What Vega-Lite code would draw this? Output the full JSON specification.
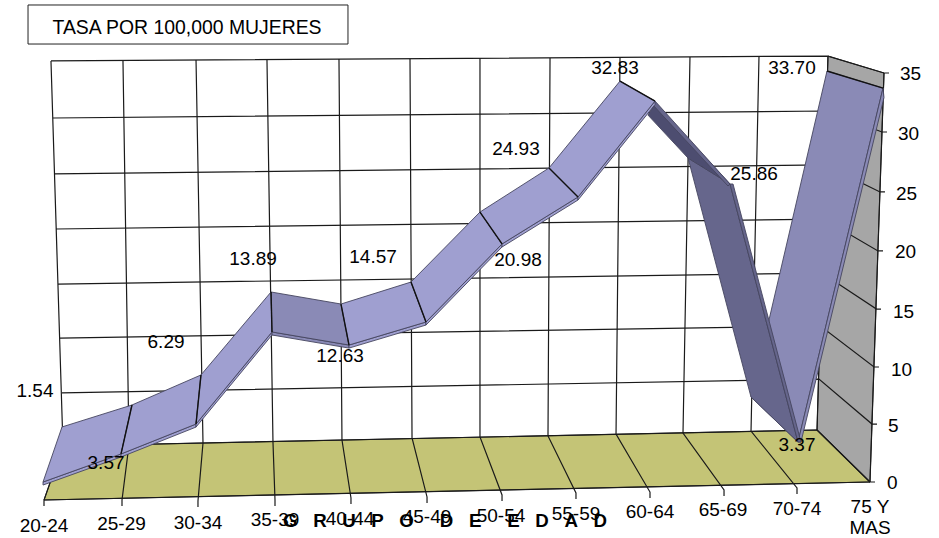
{"$schema":"https://vega.github.io/schema/vega-lite/v6.json","width":939,"height":538,"padding":0,"autosize":"none","background":"white","config":{"view":{"stroke":null}},
"datasets":{
"walls":[
{"poly":"side","tone":"wall","i":0,"x":10.453,"y":36.45},{"poly":"side","tone":"wall","i":1,"x":11.2,"y":35},{"poly":"side","tone":"wall","i":2,"x":11.013,"y":0},{"poly":"side","tone":"wall","i":3,"x":10.307,"y":4.45},{"poly":"side","tone":"wall","i":4,"x":10.453,"y":36.45},
{"poly":"floor","tone":"floor","i":0,"x":0.253,"y":3.08},{"poly":"floor","tone":"floor","i":1,"x":10.307,"y":4.45},{"poly":"floor","tone":"floor","i":2,"x":11.013,"y":0},{"poly":"floor","tone":"floor","i":3,"x":0,"y":-1.54},{"poly":"floor","tone":"floor","i":4,"x":0.253,"y":3.08},
{"poly":"box","tone":"box","i":0,"x":-0.213,"y":40.82},{"poly":"box","tone":"box","i":1,"x":4.053,"y":40.82},{"poly":"box","tone":"box","i":2,"x":4.053,"y":37.48},{"poly":"box","tone":"box","i":3,"x":-0.213,"y":37.48},{"poly":"box","tone":"box","i":4,"x":-0.213,"y":40.82}
],
"grid":[
{"l":"v0","i":0,"x":0.093,"y":36.03},{"l":"v0","i":1,"x":0.253,"y":3.08},{"l":"v0","i":2,"x":0,"y":-1.54},{"l":"v0","i":3,"x":0,"y":-2.05},
{"l":"v1","i":0,"x":1.053,"y":36.03},{"l":"v1","i":1,"x":1.133,"y":3.17},{"l":"v1","i":2,"x":1.04,"y":-1.54},{"l":"v1","i":3,"x":1.04,"y":-2.05},
{"l":"v2","i":0,"x":2.027,"y":36.11},{"l":"v2","i":1,"x":2.12,"y":3.34},{"l":"v2","i":2,"x":2.053,"y":-1.63},{"l":"v2","i":3,"x":2.053,"y":-2.14},
{"l":"v3","i":0,"x":2.973,"y":36.11},{"l":"v3","i":1,"x":3.053,"y":3.42},{"l":"v3","i":2,"x":3.08,"y":-1.54},{"l":"v3","i":3,"x":3.08,"y":-2.05},
{"l":"v4","i":0,"x":3.933,"y":36.2},{"l":"v4","i":1,"x":3.973,"y":3.59},{"l":"v4","i":2,"x":4.093,"y":-1.37},{"l":"v4","i":3,"x":4.093,"y":-1.88},
{"l":"v5","i":0,"x":4.88,"y":36.2},{"l":"v5","i":1,"x":4.907,"y":3.77},{"l":"v5","i":2,"x":5.107,"y":-1.28},{"l":"v5","i":3,"x":5.107,"y":-1.8},
{"l":"v6","i":0,"x":5.813,"y":36.28},{"l":"v6","i":1,"x":5.813,"y":3.85},{"l":"v6","i":2,"x":6.107,"y":-1.11},{"l":"v6","i":3,"x":6.107,"y":-1.63},
{"l":"v7","i":0,"x":6.747,"y":36.28},{"l":"v7","i":1,"x":6.72,"y":3.94},{"l":"v7","i":2,"x":7.093,"y":-0.94},{"l":"v7","i":3,"x":7.093,"y":-1.45},
{"l":"v8","i":0,"x":7.68,"y":36.28},{"l":"v8","i":1,"x":7.627,"y":4.11},{"l":"v8","i":2,"x":8.08,"y":-0.86},{"l":"v8","i":3,"x":8.08,"y":-1.37},
{"l":"v9","i":0,"x":8.613,"y":36.37},{"l":"v9","i":1,"x":8.52,"y":4.19},{"l":"v9","i":2,"x":9.067,"y":-0.68},{"l":"v9","i":3,"x":9.067,"y":-1.2},
{"l":"v10","i":0,"x":9.533,"y":36.37},{"l":"v10","i":1,"x":9.427,"y":4.36},{"l":"v10","i":2,"x":10.04,"y":-0.51},{"l":"v10","i":3,"x":10.04,"y":-1.03},
{"l":"v11","i":0,"x":10.453,"y":36.45},{"l":"v11","i":1,"x":10.307,"y":4.45},{"l":"v11","i":2,"x":11.013,"y":0},
{"l":"h35","i":0,"x":0.093,"y":36.03},{"l":"h35","i":1,"x":10.453,"y":36.45},{"l":"h35","i":2,"x":11.2,"y":35},{"l":"h35","i":3,"x":11.267,"y":35},
{"l":"h30","i":0,"x":0.12,"y":31.15},{"l":"h30","i":1,"x":10.433,"y":31.75},{"l":"h30","i":2,"x":11.173,"y":29.95},{"l":"h30","i":3,"x":11.24,"y":29.95},
{"l":"h25","i":0,"x":0.133,"y":26.36},{"l":"h25","i":1,"x":10.413,"y":27.13},{"l":"h25","i":2,"x":11.147,"y":24.82},{"l":"h25","i":3,"x":11.213,"y":24.82},
{"l":"h20","i":0,"x":0.16,"y":21.65},{"l":"h20","i":1,"x":10.393,"y":22.5},{"l":"h20","i":2,"x":11.12,"y":19.77},{"l":"h20","i":3,"x":11.187,"y":19.77},
{"l":"h15","i":0,"x":0.187,"y":16.94},{"l":"h15","i":1,"x":10.373,"y":17.88},{"l":"h15","i":2,"x":11.1,"y":14.8},{"l":"h15","i":3,"x":11.16,"y":14.8},
{"l":"h10","i":0,"x":0.213,"y":12.32},{"l":"h10","i":1,"x":10.353,"y":13.35},{"l":"h10","i":2,"x":11.067,"y":9.84},{"l":"h10","i":3,"x":11.133,"y":9.84},
{"l":"h5","i":0,"x":0.24,"y":7.62},{"l":"h5","i":1,"x":10.333,"y":8.81},{"l":"h5","i":2,"x":11.04,"y":4.96},{"l":"h5","i":3,"x":11.107,"y":4.96},
{"l":"h0","i":0,"x":0.253,"y":3.08},{"l":"h0","i":1,"x":10.307,"y":4.45},{"l":"h0","i":2,"x":11.013,"y":0},{"l":"h0","i":3,"x":11.08,"y":0},
{"l":"front","i":0,"x":0,"y":-1.54},{"l":"front","i":1,"x":11.013,"y":0},
{"l":"right","i":0,"x":11.013,"y":0},{"l":"right","i":1,"x":11.2,"y":35}
],
"ribbon":[
{"poly":"F10","tone":"mid","i":0,"x":9.427,"y":7.27},{"poly":"F10","tone":"mid","i":1,"x":10.44,"y":35.17},{"poly":"F10","tone":"mid","i":2,"x":11.187,"y":33.71},{"poly":"F10","tone":"mid","i":3,"x":10.053,"y":3.42},{"poly":"F10","tone":"mid","i":4,"x":9.427,"y":7.27},
{"poly":"S10","tone":"mid","i":0,"x":10.053,"y":3.42},{"poly":"S10","tone":"mid","i":1,"x":11.187,"y":33.71},{"poly":"S10","tone":"mid","i":2,"x":11.2,"y":32.9},{"poly":"S10","tone":"mid","i":3,"x":10.093,"y":3.42},{"poly":"S10","tone":"mid","i":4,"x":10.053,"y":3.42},
{"poly":"F9","tone":"shade","i":0,"x":8.587,"y":27.72},{"poly":"F9","tone":"shade","i":1,"x":9.147,"y":25.5},{"poly":"F9","tone":"shade","i":2,"x":10.053,"y":3.42},{"poly":"F9","tone":"shade","i":3,"x":9.427,"y":7.27},{"poly":"F9","tone":"shade","i":4,"x":8.587,"y":27.72},
{"poly":"S9","tone":"shade","i":0,"x":9.147,"y":25.5},{"poly":"S9","tone":"shade","i":1,"x":10.053,"y":3.42},{"poly":"S9","tone":"shade","i":2,"x":10.093,"y":3.42},{"poly":"S9","tone":"shade","i":3,"x":9.187,"y":25.5},{"poly":"S9","tone":"shade","i":4,"x":9.147,"y":25.5},
{"poly":"F8","tone":"deep","i":0,"x":8.147,"y":32.43},{"poly":"F8","tone":"deep","i":1,"x":8.053,"y":31.4},{"poly":"F8","tone":"deep","i":2,"x":8.587,"y":27.72},{"poly":"F8","tone":"deep","i":3,"x":9.147,"y":25.5},{"poly":"F8","tone":"deep","i":4,"x":8.147,"y":32.43},
{"poly":"S8","tone":"shade","i":0,"x":8.147,"y":32.6},{"poly":"S8","tone":"shade","i":1,"x":9.147,"y":25.5},{"poly":"S8","tone":"shade","i":2,"x":9.12,"y":25.33},{"poly":"S8","tone":"shade","i":3,"x":8.107,"y":32.35},{"poly":"S8","tone":"shade","i":4,"x":8.147,"y":32.6},
{"poly":"S0","tone":"lit","i":0,"x":-0.013,"y":0},{"poly":"S0","tone":"lit","i":1,"x":1.027,"y":2.4},{"poly":"S0","tone":"lit","i":2,"x":1.027,"y":2.14},{"poly":"S0","tone":"lit","i":3,"x":-0.013,"y":-0.26},{"poly":"S0","tone":"lit","i":4,"x":-0.013,"y":0},
{"poly":"S1","tone":"lit","i":0,"x":1.027,"y":2.4},{"poly":"S1","tone":"lit","i":1,"x":2.027,"y":4.96},{"poly":"S1","tone":"lit","i":2,"x":2.027,"y":4.7},{"poly":"S1","tone":"lit","i":3,"x":1.027,"y":2.14},{"poly":"S1","tone":"lit","i":4,"x":1.027,"y":2.4},
{"poly":"S2","tone":"lit","i":0,"x":2.027,"y":4.96},{"poly":"S2","tone":"lit","i":1,"x":3.04,"y":12.84},{"poly":"S2","tone":"lit","i":2,"x":3.04,"y":12.58},{"poly":"S2","tone":"lit","i":3,"x":2.027,"y":4.7},{"poly":"S2","tone":"lit","i":4,"x":2.027,"y":4.96},
{"poly":"S3","tone":"mid","i":0,"x":3.04,"y":12.84},{"poly":"S3","tone":"mid","i":1,"x":4.067,"y":11.72},{"poly":"S3","tone":"mid","i":2,"x":4.067,"y":11.46},{"poly":"S3","tone":"mid","i":3,"x":3.04,"y":12.58},{"poly":"S3","tone":"mid","i":4,"x":3.04,"y":12.84},
{"poly":"S4","tone":"lit","i":0,"x":4.067,"y":11.72},{"poly":"S4","tone":"lit","i":1,"x":5.093,"y":13.69},{"poly":"S4","tone":"lit","i":2,"x":5.093,"y":13.43},{"poly":"S4","tone":"lit","i":3,"x":4.067,"y":11.46},{"poly":"S4","tone":"lit","i":4,"x":4.067,"y":11.72},
{"poly":"S5","tone":"lit","i":0,"x":5.093,"y":13.69},{"poly":"S5","tone":"lit","i":1,"x":6.107,"y":20.37},{"poly":"S5","tone":"lit","i":2,"x":6.107,"y":20.11},{"poly":"S5","tone":"lit","i":3,"x":5.093,"y":13.43},{"poly":"S5","tone":"lit","i":4,"x":5.093,"y":13.69},
{"poly":"S6","tone":"lit","i":0,"x":6.107,"y":20.37},{"poly":"S6","tone":"lit","i":1,"x":7.12,"y":24.39},{"poly":"S6","tone":"lit","i":2,"x":7.12,"y":24.13},{"poly":"S6","tone":"lit","i":3,"x":6.107,"y":20.11},{"poly":"S6","tone":"lit","i":4,"x":6.107,"y":20.37},
{"poly":"S7","tone":"lit","i":0,"x":7.12,"y":24.39},{"poly":"S7","tone":"lit","i":1,"x":8.147,"y":32.6},{"poly":"S7","tone":"lit","i":2,"x":8.147,"y":32.3},{"poly":"S7","tone":"lit","i":3,"x":7.12,"y":24.13},{"poly":"S7","tone":"lit","i":4,"x":7.12,"y":24.39},
{"poly":"F0","tone":"lit","i":0,"x":0.24,"y":4.71},{"poly":"F0","tone":"lit","i":1,"x":1.173,"y":6.59},{"poly":"F0","tone":"lit","i":2,"x":1.027,"y":2.4},{"poly":"F0","tone":"lit","i":3,"x":-0.013,"y":0},{"poly":"F0","tone":"lit","i":4,"x":0.24,"y":4.71},
{"poly":"F1","tone":"lit","i":0,"x":1.173,"y":6.59},{"poly":"F1","tone":"lit","i":1,"x":2.093,"y":9.16},{"poly":"F1","tone":"lit","i":2,"x":2.027,"y":4.96},{"poly":"F1","tone":"lit","i":3,"x":1.027,"y":2.4},{"poly":"F1","tone":"lit","i":4,"x":1.173,"y":6.59},
{"poly":"F2","tone":"lit","i":0,"x":2.093,"y":9.16},{"poly":"F2","tone":"lit","i":1,"x":3.027,"y":16.26},{"poly":"F2","tone":"lit","i":2,"x":3.04,"y":12.84},{"poly":"F2","tone":"lit","i":3,"x":2.027,"y":4.96},{"poly":"F2","tone":"lit","i":4,"x":2.093,"y":9.16},
{"poly":"F3","tone":"mid","i":0,"x":3.027,"y":16.26},{"poly":"F3","tone":"mid","i":1,"x":3.96,"y":15.23},{"poly":"F3","tone":"mid","i":2,"x":4.067,"y":11.72},{"poly":"F3","tone":"mid","i":3,"x":3.04,"y":12.84},{"poly":"F3","tone":"mid","i":4,"x":3.027,"y":16.26},
{"poly":"F4","tone":"lit","i":0,"x":3.96,"y":15.23},{"poly":"F4","tone":"lit","i":1,"x":4.893,"y":17.11},{"poly":"F4","tone":"lit","i":2,"x":5.093,"y":13.69},{"poly":"F4","tone":"lit","i":3,"x":4.067,"y":11.72},{"poly":"F4","tone":"lit","i":4,"x":3.96,"y":15.23},
{"poly":"F5","tone":"lit","i":0,"x":4.893,"y":17.11},{"poly":"F5","tone":"lit","i":1,"x":5.813,"y":23.1},{"poly":"F5","tone":"lit","i":2,"x":6.107,"y":20.37},{"poly":"F5","tone":"lit","i":3,"x":5.093,"y":13.69},{"poly":"F5","tone":"lit","i":4,"x":4.893,"y":17.11},
{"poly":"F6","tone":"lit","i":0,"x":5.813,"y":23.1},{"poly":"F6","tone":"lit","i":1,"x":6.733,"y":26.87},{"poly":"F6","tone":"lit","i":2,"x":7.12,"y":24.39},{"poly":"F6","tone":"lit","i":3,"x":6.107,"y":20.37},{"poly":"F6","tone":"lit","i":4,"x":5.813,"y":23.1},
{"poly":"F7","tone":"lit","i":0,"x":6.733,"y":26.87},{"poly":"F7","tone":"lit","i":1,"x":7.68,"y":34.31},{"poly":"F7","tone":"lit","i":2,"x":8.147,"y":32.6},{"poly":"F7","tone":"lit","i":3,"x":7.12,"y":24.39},{"poly":"F7","tone":"lit","i":4,"x":6.733,"y":26.87}
],
"edges":[
{"l":"e1","i":0,"x":1.173,"y":6.59},{"l":"e1","i":1,"x":1.027,"y":2.4},
{"l":"e2","i":0,"x":2.093,"y":9.16},{"l":"e2","i":1,"x":2.027,"y":4.96},
{"l":"e3","i":0,"x":3.027,"y":16.26},{"l":"e3","i":1,"x":3.04,"y":12.84},
{"l":"e4","i":0,"x":3.96,"y":15.23},{"l":"e4","i":1,"x":4.067,"y":11.72},
{"l":"e5","i":0,"x":4.893,"y":17.11},{"l":"e5","i":1,"x":5.093,"y":13.69},
{"l":"e6","i":0,"x":5.813,"y":23.1},{"l":"e6","i":1,"x":6.107,"y":20.37},
{"l":"e7","i":0,"x":6.733,"y":26.87},{"l":"e7","i":1,"x":7.12,"y":24.39},
{"l":"e8","i":0,"x":7.68,"y":34.31},{"l":"e8","i":1,"x":8.147,"y":32.6},
{"l":"e11","i":0,"x":10.44,"y":35.17},{"l":"e11","i":1,"x":11.187,"y":33.71}
],
"labels":[
{"label":"1.54","x":-0.12,"y":7.87},{"label":"3.57","x":0.827,"y":1.71},{"label":"6.29","x":1.627,"y":12.07},{"label":"13.89","x":2.787,"y":19.17},{"label":"12.63","x":3.947,"y":10.87},{"label":"14.57","x":4.387,"y":19.34},{"label":"20.98","x":6.32,"y":19.08},{"label":"24.93","x":6.293,"y":28.58},{"label":"32.83","x":7.613,"y":35.51},{"label":"25.86","x":9.467,"y":26.44},{"label":"3.37","x":10.04,"y":3.25},{"label":"33.70","x":9.973,"y":35.51},
{"label":"20-24","x":0,"y":-3.68},{"label":"25-29","x":1.033,"y":-3.51},{"label":"30-34","x":2.053,"y":-3.42},{"label":"35-39","x":3.08,"y":-3.17},{"label":"40-44","x":4.08,"y":-3.08},{"label":"45-49","x":5.107,"y":-2.91},{"label":"50-54","x":6.093,"y":-2.82},{"label":"55-59","x":7.093,"y":-2.65},{"label":"60-64","x":8.08,"y":-2.48},{"label":"65-69","x":9.053,"y":-2.31},{"label":"70-74","x":10.04,"y":-2.22},{"label":"75 Y","x":11.013,"y":-2.05},{"label":"MAS","x":11.013,"y":-3.85}
],
"boxtitle":[{"label":"TASA POR 100,000 MUJERES","x":1.907,"y":38.93}],
"ylabels":[
{"label":"35","x":11.413,"y":35},{"label":"30","x":11.387,"y":29.86},{"label":"25","x":11.36,"y":24.73},{"label":"20","x":11.347,"y":19.77},{"label":"15","x":11.32,"y":14.63},{"label":"10","x":11.293,"y":9.67},{"label":"5","x":11.253,"y":4.88},{"label":"0","x":11.24,"y":0}
],
"axistitle":[{"label":"G\u00a0\u00a0\u00a0R\u00a0\u00a0\u00a0U\u00a0\u00a0\u00a0P\u00a0\u00a0\u00a0O\u00a0\u00a0\u00a0\u00a0\u00a0D\u00a0\u00a0\u00a0E\u00a0\u00a0\u00a0\u00a0\u00a0E\u00a0\u00a0\u00a0D\u00a0\u00a0\u00a0A\u00a0\u00a0\u00a0D","x":5.347,"y":-3.25}]
},
"encoding":{
"x":{"field":"x","type":"quantitative","axis":null,"scale":{"domain":[0,11],"range":[44,869],"nice":false,"zero":false}},
"y":{"field":"y","type":"quantitative","axis":null,"scale":{"domain":[0,35],"range":[482,73],"nice":false,"zero":false}}
},
"layer":[
{"data":{"name":"walls"},"mark":{"type":"line","stroke":"#222222","strokeWidth":1,"clip":false},
 "encoding":{"detail":{"field":"poly"},"order":{"field":"i"},"fill":{"field":"tone","legend":null,"scale":{"domain":["wall","floor","box","lit","mid","shade","deep"],"range":["#A6A6A6","#C4C476","#FFFFFF","#9F9FD0","#8A8AB6","#66668C","#4D4D70"]}}}},
{"data":{"name":"grid"},"mark":{"type":"line","stroke":"#1a1a1a","strokeWidth":1.2},
 "encoding":{"detail":{"field":"l"},"order":{"field":"i"}}},
{"data":{"name":"ribbon"},"mark":{"type":"line","stroke":"#45455f","strokeWidth":0.9},
 "encoding":{"detail":{"field":"poly"},"order":{"field":"i"},"fill":{"field":"tone","legend":null,"scale":{"domain":["wall","floor","box","lit","mid","shade","deep"],"range":["#A6A6A6","#C4C476","#FFFFFF","#9F9FD0","#8A8AB6","#66668C","#4D4D70"]}}}},
{"data":{"name":"edges"},"mark":{"type":"line","stroke":"#111111","strokeWidth":1.4},
 "encoding":{"detail":{"field":"l"},"order":{"field":"i"}}},
{"data":{"name":"axistitle"},"mark":{"type":"text","font":"Liberation Sans","fontSize":18.7,"fontWeight":"bold","align":"center","baseline":"middle","dy":1,"color":"#000000"},"encoding":{"text":{"field":"label"}}},
{"data":{"name":"labels"},"mark":{"type":"text","font":"Liberation Sans","fontSize":19,"align":"center","baseline":"middle","dy":1,"color":"#000000"},"encoding":{"text":{"field":"label"}}},
{"data":{"name":"boxtitle"},"mark":{"type":"text","font":"Liberation Sans","fontSize":19.4,"align":"center","baseline":"middle","dy":1,"color":"#000000"},"encoding":{"text":{"field":"label"}}},
{"data":{"name":"ylabels"},"mark":{"type":"text","font":"Liberation Sans","fontSize":19,"align":"left","baseline":"middle","dy":1,"color":"#000000"},"encoding":{"text":{"field":"label"}}}
]}
